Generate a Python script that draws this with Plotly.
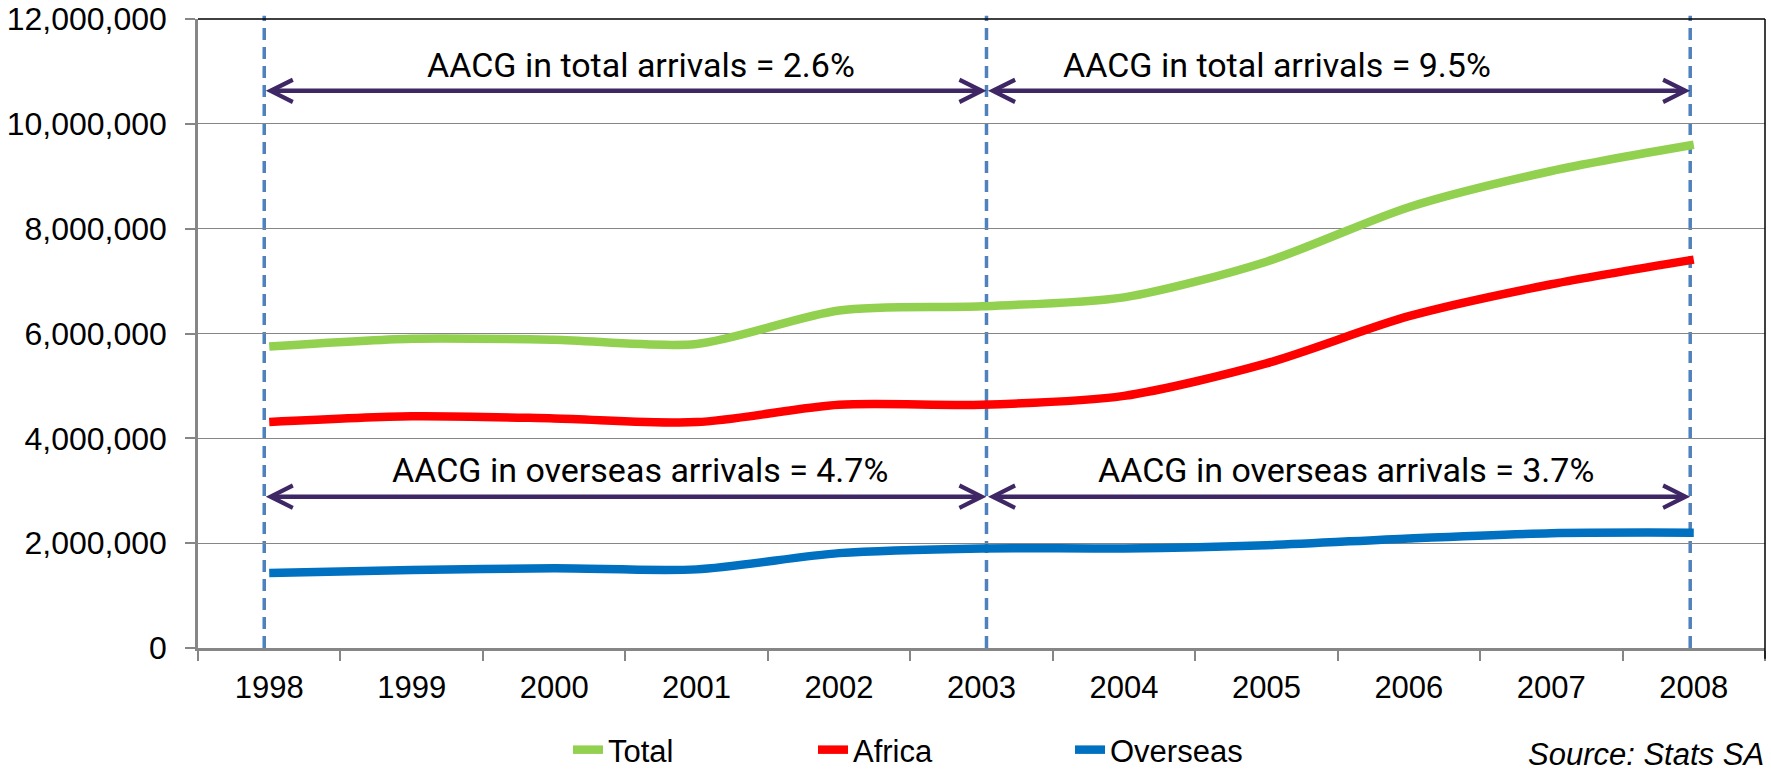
import plotly.graph_objects as go

years = ["1998", "1999", "2000", "2001", "2002", "2003", "2004", "2005", "2006", "2007", "2008"]
total = [5750000, 5900000, 5880000, 5800000, 6440000, 6520000, 6690000, 7370000, 8410000, 9100000, 9600000]
africa = [4310000, 4420000, 4380000, 4310000, 4640000, 4640000, 4810000, 5430000, 6330000, 6940000, 7410000]
overseas = [1430000, 1490000, 1520000, 1500000, 1810000, 1900000, 1900000, 1960000, 2090000, 2190000, 2200000]

y_tick_vals = [0, 2000000, 4000000, 6000000, 8000000, 10000000, 12000000]
y_tick_text = ["0", "2,000,000", "4,000,000", "6,000,000", "8,000,000", "10,000,000", "12,000,000"]

series_names = ["Total", "Africa", "Overseas"]
series_colors = ["#92D050", "#FF0000", "#0070C0"]

period_marks = [-0.035, 5.035, 9.975]
total_labels = ["AACG in total arrivals = 2.6%", "AACG in total arrivals = 9.5%"]
overseas_labels = ["AACG in overseas arrivals = 4.7%", "AACG in overseas arrivals = 3.7%"]

W, H = 1771, 777
L, R, T, B = 198, 6, 19, 129
PW, PH = W - L - R, H - T - B

fig = go.Figure()
for name, vals, col, lg in zip(series_names, [total, africa, overseas], series_colors,
                               ["legend", "legend2", "legend3"]):
    fig.add_trace(go.Scatter(x=years, y=vals, name=name, mode="lines",
                             line=dict(color=col, width=8.5, shape="spline", smoothing=0.8),
                             legend=lg, showlegend=True))

axis_font = dict(family="Liberation Sans, Arial", size=31, color="black")
y_font = dict(family="Liberation Sans, Arial", size=32, color="black")
grey = "#868686"


def leg(px):
    return dict(orientation="h", xref="container", yref="container",
                x=px / W, y=-6 / H, xanchor="left", yanchor="bottom",
                font=axis_font, bgcolor="rgba(0,0,0,0)", borderwidth=0)


fig.update_layout(
    width=W, height=H,
    showlegend=True,
    margin=dict(l=L, r=R, t=T, b=B, autoexpand=False),
    paper_bgcolor="white", plot_bgcolor="white",
    font=axis_font,
    xaxis=dict(type="category", range=[-0.5, 10.5], tickson="boundaries",
               ticks="outside", ticklen=10, tickwidth=1.5, tickcolor=grey,
               showline=True, linecolor=grey, linewidth=2.5, automargin=False,
               showgrid=False, tickfont=axis_font, ticklabelstandoff=10),
    yaxis=dict(range=[0, 12000000], tickvals=y_tick_vals, ticktext=y_tick_text,
               ticks="outside", ticklen=10, tickwidth=1.5, tickcolor=grey,
               showline=True, linecolor=grey, linewidth=2.5, automargin=False,
               showgrid=True, gridcolor=grey, gridwidth=1.3, zeroline=False,
               tickfont=y_font, ticklabelstandoff=12),
    legend=leg(568),
    legend2=leg(813),
    legend3=leg(1070),
)

# plot area border (top and right)
fig.add_shape(type="line", xref="paper", yref="paper", x0=0, x1=1, y0=1, y1=1,
              line=dict(color="black", width=1.5), layer="above")
fig.add_shape(type="line", xref="paper", yref="paper", x0=1, x1=1, y0=-0.017, y1=1,
              line=dict(color="black", width=1.5), layer="above")

# dashed period markers
for xm in period_marks:
    fig.add_shape(type="line", xref="x", yref="paper", x0=xm, x1=xm, y0=0, y1=1.005,
                  line=dict(color="#4F81BD", width=3.5, dash="12px,7px"), layer="between")

arrow_col = "#3F2665"
ann_font = dict(family="Roboto", size=34, color="black")
# double-headed arrows
for (a, b) in [(period_marks[0], period_marks[1]), (period_marks[1], period_marks[2])]:
    for yv in [10630000, 2886000]:
        fig.add_annotation(x=b, y=yv, ax=a, ay=yv, xref="x", yref="y", axref="x", ayref="y",
                           text="", showarrow=True, arrowside="end+start",
                           arrowhead=5, startarrowhead=5, arrowsize=0.95, startarrowsize=0.95,
                           arrowwidth=4.6, arrowcolor=arrow_col, standoff=0, startstandoff=0)

fig.add_annotation(x=2.609, y=11120000, text=total_labels[0], showarrow=False, font=ann_font,
                   xref="x", yref="y", xanchor="center", yanchor="middle")
fig.add_annotation(x=7.077, y=11120000, text=total_labels[1], showarrow=False, font=ann_font,
                   xref="x", yref="y", xanchor="center", yanchor="middle")
fig.add_annotation(x=2.602, y=3405000, text=overseas_labels[0], showarrow=False, font=ann_font,
                   xref="x", yref="y", xanchor="center", yanchor="middle")
fig.add_annotation(x=7.56, y=3405000, text=overseas_labels[1], showarrow=False, font=ann_font,
                   xref="x", yref="y", xanchor="center", yanchor="middle")

fig.add_annotation(x=(W - 5 - L) / PW, y=-(H - 3 - (H - B)) / PH, xref="paper", yref="paper",
                   xanchor="right", yanchor="bottom",
                   text="Source: Stats SA", showarrow=False,
                   font=dict(family="Liberation Sans, Arial", size=31, color="black", style="italic"))

fig.write_html("out.html")
